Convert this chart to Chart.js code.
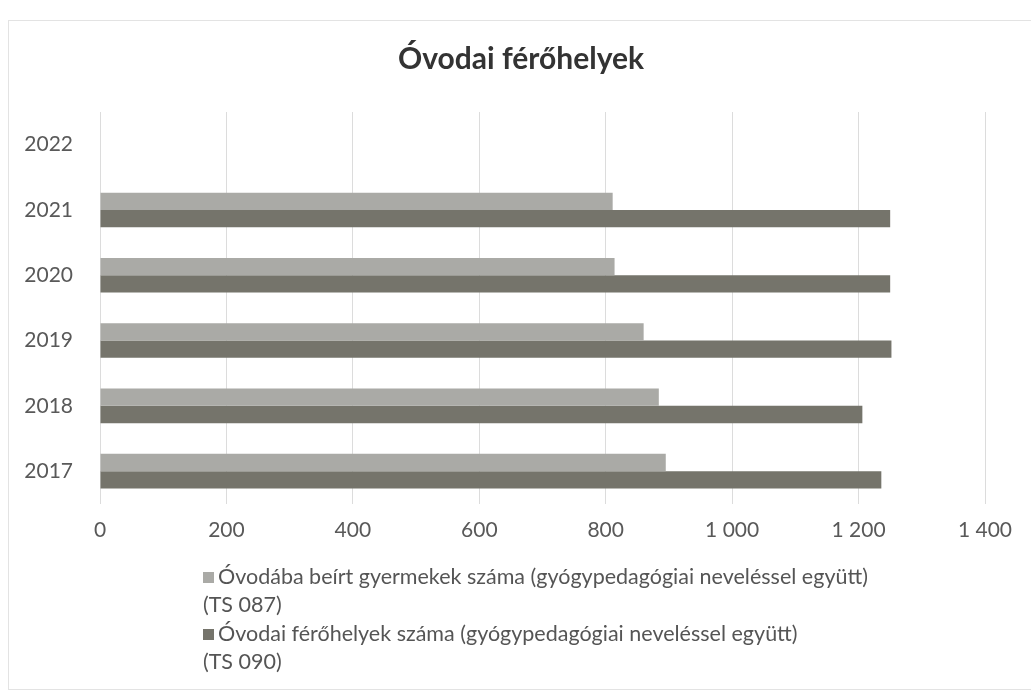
<!DOCTYPE html>
<html>
<head>
<meta charset="utf-8">
<script src="https://cdn.jsdelivr.net/npm/chart.js@4.4.1/dist/chart.umd.min.js"></script>
<style>
  html, body { margin: 0; padding: 0; background: #ffffff; }
  #wrap { position: relative; width: 1031px; height: 697px; overflow: hidden; background: #fff; }
  #frame { position: absolute; left: 8px; top: 20px; width: 1040px; height: 670px; border: 1px solid #e3e3e3; box-sizing: border-box; }
  canvas { position: absolute; left: 0; top: 0; }
  #title { position: absolute; left: 321px; width: 400px; top: 39px; text-align: center; font-family: Lato, "Open Sans", sans-serif; font-weight: bold; font-size: 30px; line-height: 36px; color: #333333; }
  #legend { position: absolute; left: 203px; top: 562px; width: 780px; font-family: Lato, "Open Sans", sans-serif; font-size: 21.5px; line-height: 28.3px; color: #555555; }
  #legend .sw { display: inline-block; width: 11px; height: 11px; margin-right: 4px; vertical-align: 1px; }
</style>
</head>
<body>
<div id="wrap">
  <div id="frame"></div>
  <canvas id="c" width="1031" height="697"></canvas>
  <div id="title"></div>
  <div id="legend"></div>
</div>
<script>
const title = 'Óvodai férőhelyek';
const years = ['2022', '2021', '2020', '2019', '2018', '2017'];
const seriesNames = [
  ['Óvodába beírt gyermekek száma (gyógypedagógiai neveléssel együtt)', '(TS 087)'],
  ['Óvodai férőhelyek száma (gyógypedagógiai neveléssel együtt)', '(TS 090)']
];
const enrolled = [null, 811, 814, 860, 884, 895];
const places = [null, 1250, 1250, 1252, 1206, 1236];
const xTicks = [0, 200, 400, 600, 800, 1000, 1200, 1400];
const colors = ['#aaaaa6', '#75746b'];

const fmt = v => String(v).replace(/\B(?=(\d{3})+(?!\d))/g, ' ');

document.getElementById('title').textContent = title;

const chart = new Chart(document.getElementById('c'), {
  type: 'bar',
  data: {
    labels: years,
    datasets: [
      { label: seriesNames[0].join(' '), data: enrolled, backgroundColor: colors[0] },
      { label: seriesNames[1].join(' '), data: places, backgroundColor: colors[1] }
    ]
  },
  options: {
    indexAxis: 'y',
    responsive: false,
    animation: false,
    devicePixelRatio: 1,
    layout: { padding: { left: 0, right: 46, top: 112, bottom: 140 } },
    datasets: { bar: { categoryPercentage: 0.53, barPercentage: 1.0 } },
    plugins: {
      legend: { display: false },
      tooltip: { enabled: false },
      title: { display: false }
    },
    scales: {
      x: {
        min: 0, max: 1400,
        afterBuildTicks: s => { s.ticks = xTicks.map(v => ({ value: v })); },
        grid: { color: '#dcdcdc', drawTicks: false },
        border: { display: false },
        ticks: {
          color: '#595959',
          font: { family: 'Lato', size: 21 },
          padding: 14,
          maxRotation: 0,
          callback: v => fmt(v)
        }
      },
      y: {
        grid: { display: false, drawTicks: false },
        border: { display: false },
        afterFit: s => { s.width = 100; },
        ticks: {
          color: '#595959',
          font: { family: 'Lato', size: 21 },
          padding: 27
        }
      }
    }
  }
});

const lg = document.getElementById('legend');
chart.data.datasets.forEach((ds, i) => {
  const d = document.createElement('div');
  const sw = document.createElement('span');
  sw.className = 'sw';
  sw.style.background = ds.backgroundColor;
  d.appendChild(sw);
  d.appendChild(document.createTextNode(seriesNames[i][0]));
  d.appendChild(document.createElement('br'));
  d.appendChild(document.createTextNode(seriesNames[i][1]));
  lg.appendChild(d);
});
</script>
</body>
</html>
